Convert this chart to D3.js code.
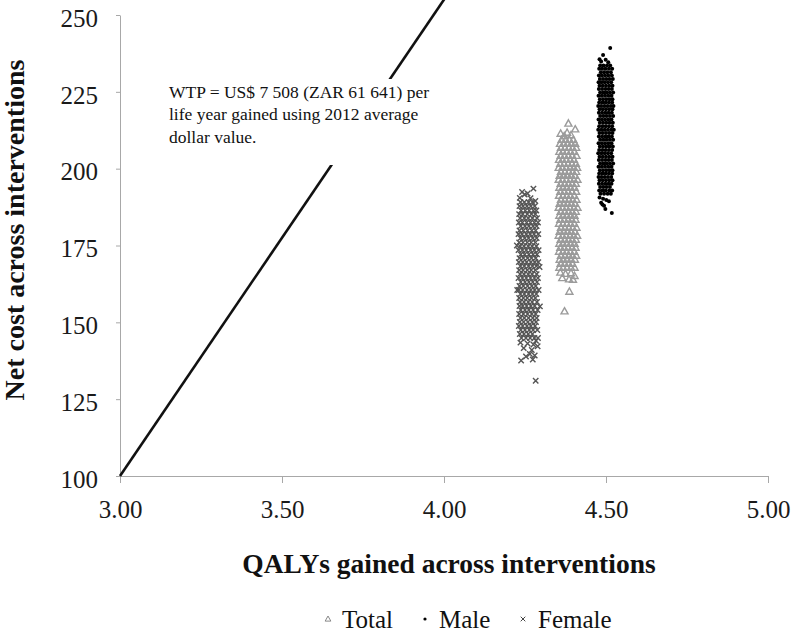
<!DOCTYPE html>
<html>
<head>
<meta charset="utf-8">
<script src="https://cdn.jsdelivr.net/npm/d3@7/dist/d3.min.js"></script>
<style>
  html, body { margin: 0; padding: 0; background: #fff; }
  svg { display: block; }
  text { font-family: "Liberation Serif", "Times New Roman", serif; }
</style>
</head>
<body>
<svg id="chart" width="800" height="633"></svg>
<script>
// ---------------- DATA ----------------
const xTicks = [3.00, 3.50, 4.00, 4.50, 5.00];
const yTicks = [100, 125, 150, 175, 200, 225, 250];
const seriesNames = ["Total", "Male", "Female"];
const xTitle = "QALYs gained across interventions";
const yTitle = "Net cost across interventions";
const annotationLines = [
  "WTP = US$ 7 508 (ZAR 61 641) per",
  "life year gained using 2012 average",
  "dollar value."
];
// WTP threshold line (QALYs, net cost)
const wtpX = [3.00, 4.009];
const wtpY = [100, 256.4];

// Female (×) : rows of [net cost, [QALYs...]] plus scattered points
const femaleRows = [
  [189.1,[4.236,4.248,4.261,4.273]],
  [187.8,[4.233,4.244,4.256,4.268,4.280]],
  [186.4,[4.238,4.251,4.263,4.276,4.285]],
  [185.2,[4.232,4.243,4.257,4.270,4.282]],
  [183.9,[4.235,4.248,4.260,4.273,4.287]],
  [182.5,[4.231,4.242,4.255,4.267,4.279,4.290]],
  [181.3,[4.237,4.250,4.262,4.275,4.286]],
  [179.9,[4.233,4.245,4.258,4.271,4.283]],
  [178.7,[4.230,4.241,4.254,4.266,4.278,4.291]],
  [177.4,[4.236,4.249,4.261,4.274,4.286]],
  [176.0,[4.232,4.244,4.257,4.269,4.282]],
  [174.8,[4.235,4.247,4.260,4.272,4.285]],
  [173.5,[4.230,4.242,4.254,4.267,4.279,4.292]],
  [172.1,[4.237,4.249,4.262,4.275,4.287]],
  [170.9,[4.233,4.245,4.258,4.270,4.283]],
  [169.6,[4.231,4.243,4.255,4.268,4.280,4.291]],
  [168.3,[4.236,4.248,4.261,4.273,4.285]],
  [167.0,[4.232,4.244,4.257,4.269,4.282]],
  [165.7,[4.235,4.247,4.260,4.272,4.286]],
  [164.4,[4.230,4.242,4.254,4.267,4.279,4.290]],
  [163.1,[4.237,4.250,4.262,4.274,4.287]],
  [161.8,[4.233,4.245,4.258,4.271,4.283]],
  [160.5,[4.231,4.243,4.256,4.268,4.280,4.292]],
  [159.2,[4.236,4.248,4.261,4.273,4.285]],
  [157.9,[4.232,4.245,4.257,4.270,4.282]],
  [156.6,[4.235,4.247,4.260,4.272,4.287]],
  [155.3,[4.233,4.243,4.255,4.268,4.280]],
  [154.0,[4.237,4.250,4.262,4.275,4.289]],
  [152.7,[4.232,4.245,4.258,4.271,4.283]],
  [151.4,[4.236,4.248,4.261,4.274,4.286]],
  [150.1,[4.234,4.246,4.259,4.272,4.284]],
  [148.8,[4.231,4.243,4.256,4.268,4.281]],
  [147.5,[4.237,4.250,4.263,4.275,4.288]],
  [146.2,[4.234,4.247,4.260,4.273]],
  [144.9,[4.239,4.253,4.266,4.279,4.290]]
];
const femaleScatter = [
  [4.241,192.4],[4.249,191.6],[4.258,191.9],[4.276,193.5],[4.234,190.5],[4.267,190.4],[4.282,189.5],
  [4.225,175.0],[4.295,168.0],[4.226,160.5],[4.296,155.2],
  [4.236,143.4],[4.258,143.1],[4.276,142.8],[4.284,144.0],[4.246,141.6],[4.271,141.0],[4.289,142.2],
  [4.265,139.7],[4.253,138.9],[4.238,137.6],[4.280,139.2],[4.274,137.9],[4.283,131.0]
];

// Total (triangle)
const totalRows = [
  [209.4,[4.363,4.375,4.387,4.399]],
  [208.1,[4.358,4.370,4.382,4.394,4.405]],
  [206.8,[4.361,4.373,4.385,4.397,4.408]],
  [205.5,[4.356,4.367,4.379,4.391,4.402]],
  [204.2,[4.360,4.372,4.384,4.396,4.409]],
  [202.9,[4.355,4.366,4.378,4.390,4.401]],
  [201.6,[4.359,4.371,4.383,4.395,4.407]],
  [200.3,[4.354,4.365,4.377,4.389,4.400,4.411]],
  [199.0,[4.361,4.373,4.385,4.397,4.408]],
  [197.7,[4.357,4.368,4.380,4.392,4.404]],
  [196.4,[4.354,4.366,4.378,4.390,4.401,4.412]],
  [195.1,[4.360,4.372,4.384,4.396,4.407]],
  [193.8,[4.356,4.368,4.380,4.391,4.403]],
  [192.5,[4.359,4.371,4.383,4.395,4.408]],
  [191.2,[4.355,4.367,4.379,4.390,4.402]],
  [189.9,[4.361,4.373,4.385,4.397,4.409]],
  [188.6,[4.357,4.369,4.381,4.393,4.404]],
  [187.3,[4.354,4.366,4.378,4.389,4.401,4.412]],
  [186.0,[4.360,4.372,4.384,4.396,4.407]],
  [184.7,[4.356,4.368,4.380,4.392,4.403]],
  [183.4,[4.359,4.371,4.383,4.394,4.406]],
  [182.1,[4.355,4.367,4.379,4.391,4.402]],
  [180.8,[4.361,4.373,4.385,4.397,4.409]],
  [179.5,[4.357,4.369,4.381,4.392,4.404]],
  [178.2,[4.354,4.366,4.377,4.389,4.400,4.411]],
  [176.9,[4.360,4.372,4.384,4.396,4.407]],
  [175.6,[4.356,4.368,4.380,4.391,4.403]],
  [174.3,[4.359,4.371,4.383,4.395,4.406]],
  [173.0,[4.355,4.367,4.378,4.390,4.402]],
  [171.7,[4.361,4.373,4.385,4.396,4.408]],
  [170.4,[4.357,4.369,4.381,4.393,4.404]],
  [169.1,[4.360,4.372,4.384,4.396]],
  [167.8,[4.356,4.368,4.380,4.392,4.403]]
];
const totalScatter = [
  [4.384,214.7],[4.360,211.4],[4.405,212.8],[4.371,210.6],[4.392,210.9],[4.380,211.7],
  [4.359,166.2],[4.375,165.8],[4.392,166.0],[4.403,165.1],[4.365,164.4],[4.386,164.0],[4.398,163.9],
  [4.387,160.0],[4.372,153.6]
];

// Male (dot)
const maleRows = [
  [233.6,[4.482,4.492,4.503,4.513]],
  [232.5,[4.479,4.488,4.498,4.509,4.519]],
  [231.4,[4.484,4.494,4.504,4.515]],
  [230.3,[4.478,4.487,4.497,4.507,4.518]],
  [229.2,[4.481,4.491,4.501,4.511,4.521]],
  [228.1,[4.477,4.486,4.496,4.506,4.516]],
  [227.0,[4.480,4.490,4.500,4.510,4.520]],
  [225.9,[4.478,4.488,4.498,4.508,4.518]],
  [224.8,[4.482,4.492,4.502,4.512,4.522]],
  [223.7,[4.477,4.487,4.497,4.507,4.517]],
  [222.6,[4.481,4.491,4.501,4.511,4.520]],
  [221.5,[4.479,4.489,4.499,4.509,4.519]],
  [220.4,[4.476,4.485,4.495,4.505,4.515,4.523]],
  [219.3,[4.480,4.490,4.500,4.510,4.520]],
  [218.2,[4.478,4.488,4.498,4.508,4.518]],
  [217.1,[4.482,4.492,4.502,4.512,4.522]],
  [216.0,[4.477,4.487,4.497,4.507,4.517]],
  [214.9,[4.481,4.491,4.501,4.511,4.521]],
  [213.8,[4.479,4.489,4.499,4.509,4.519]],
  [212.7,[4.476,4.486,4.496,4.506,4.516,4.524]],
  [211.6,[4.480,4.490,4.500,4.510,4.520]],
  [210.5,[4.478,4.488,4.498,4.508,4.518]],
  [209.4,[4.482,4.492,4.502,4.512,4.522]],
  [208.3,[4.477,4.487,4.497,4.507,4.517]],
  [207.2,[4.481,4.491,4.501,4.511,4.521]],
  [206.1,[4.479,4.489,4.499,4.509,4.519]],
  [205.0,[4.476,4.486,4.496,4.506,4.516]],
  [203.9,[4.480,4.490,4.500,4.510,4.520]],
  [202.8,[4.478,4.488,4.498,4.508,4.518]],
  [201.7,[4.482,4.492,4.502,4.512,4.522]],
  [200.6,[4.477,4.487,4.497,4.507,4.517]],
  [199.5,[4.481,4.491,4.501,4.511,4.520]],
  [198.4,[4.479,4.489,4.499,4.509,4.519]],
  [197.3,[4.477,4.486,4.496,4.506,4.516]],
  [196.2,[4.480,4.490,4.500,4.510,4.520]],
  [195.1,[4.478,4.488,4.498,4.508,4.517]],
  [194.0,[4.482,4.492,4.502,4.512]],
  [192.9,[4.479,4.489,4.499,4.510,4.519]],
  [191.8,[4.483,4.494,4.505,4.515]]
];
const maleScatter = [
  [4.513,239.3],[4.491,237.0],[4.485,234.9],[4.499,235.4],[4.507,234.6],[4.480,235.6],
  [4.480,190.6],[4.491,190.2],[4.501,189.8],[4.485,188.9],[4.509,189.4],[4.494,187.9],
  [4.498,186.9],[4.518,185.6],[4.489,188.3]
];

// ---------------- CHART ----------------
const flatten = (rows, extra) =>
  rows.flatMap(([yv, xs]) => xs.map(xv => [xv, yv])).concat(extra);
const femalePts = flatten(femaleRows, femaleScatter);
const totalPts = flatten(totalRows, totalScatter);
const malePts = flatten(maleRows, maleScatter);

const svg = d3.select("#chart");
svg.append("rect").attr("width", 800).attr("height", 633).attr("fill", "#fff");

const x = d3.scaleLinear().domain([3, 5]).range([120, 768]);
const y = d3.scaleLinear().domain([100, 250]).range([476, 15]);
const axisColor = "#a8a8a8";
const tickFont = 25;
const serif = "Liberation Serif, Times New Roman, serif";

// Y axis
const gy = svg.append("g").attr("transform", `translate(${x(3)},0)`)
  .call(d3.axisLeft(y).tickValues(yTicks).tickSize(4).tickSizeOuter(0)
    .tickPadding(18).tickFormat(d3.format("d")));
gy.select(".domain").attr("stroke", axisColor);
gy.selectAll(".tick line").attr("stroke", axisColor);
gy.selectAll(".tick text").attr("font-size", tickFont).attr("fill", "#1a1a1a")
  .attr("font-family", serif).attr("dy", "0.45em");

// X axis
const gx = svg.append("g").attr("transform", `translate(0,${y(100)})`)
  .call(d3.axisBottom(x).tickValues(xTicks).tickSize(7).tickSizeOuter(0)
    .tickPadding(17).tickFormat(d3.format(".2f")));
gx.select(".domain").attr("stroke", axisColor);
gx.selectAll(".tick line").attr("stroke", axisColor);
gx.selectAll(".tick text").attr("font-size", tickFont).attr("fill", "#1a1a1a")
  .attr("font-family", serif);

// Titles
svg.append("text").attr("x", 449).attr("y", 573).attr("text-anchor", "middle")
  .attr("font-size", 27.5).attr("font-weight", "bold").attr("fill", "#111").text(xTitle);
svg.append("text").attr("transform", `translate(24,230) rotate(-90)`).attr("text-anchor", "middle")
  .attr("font-size", 28).attr("font-weight", "bold").attr("fill", "#111").text(yTitle);

// WTP line
const line = d3.line().x(d => x(d[0])).y(d => y(d[1]));
svg.append("path").datum(d3.zip(wtpX, wtpY)).attr("d", line)
  .attr("fill", "none").attr("stroke", "#111").attr("stroke-width", 2.6);

// Annotation box (white background hides the line)
svg.append("rect").attr("x", 163).attr("y", 79).attr("width", 282).attr("height", 86).attr("fill", "#fff");
svg.append("g").selectAll("text").data(annotationLines).join("text")
  .attr("x", 169).attr("y", (d, i) => 98 + i * 22.3)
  .attr("font-size", 17.5).attr("fill", "#111").text(d => d);

// Marker shapes
const crossPath = s => `M${-s},${-s}L${s},${s}M${-s},${s}L${s},${-s}`;
const triPath = s => `M0,${-s}L${s * 0.95},${s * 0.7}L${-s * 0.95},${s * 0.7}Z`;

// Female crosses
svg.append("g").selectAll("path").data(femalePts).join("path")
  .attr("transform", d => `translate(${x(d[0])},${y(d[1])})`)
  .attr("d", crossPath(2.7)).attr("fill", "none").attr("stroke", "#555").attr("stroke-width", 1.4);

// Total triangles
svg.append("g").selectAll("path").data(totalPts).join("path")
  .attr("transform", d => `translate(${x(d[0])},${y(d[1])})`)
  .attr("d", triPath(3.7)).attr("fill", "none").attr("stroke", "#9b9b9b").attr("stroke-width", 1.4);

// Male dots
svg.append("g").selectAll("circle").data(malePts).join("circle")
  .attr("cx", d => x(d[0])).attr("cy", d => y(d[1])).attr("r", 2.0).attr("fill", "#000");

// Legend
const legendY = 619;
const legendItems = [
  { name: seriesNames[0], sx: 328, tx: 342 },
  { name: seriesNames[1], sx: 425, tx: 439 },
  { name: seriesNames[2], sx: 523, tx: 538 }
];
const lg = svg.append("g");
lg.append("path").attr("transform", `translate(${legendItems[0].sx},${legendY})`)
  .attr("d", triPath(3)).attr("fill", "none").attr("stroke", "#888").attr("stroke-width", 1);
lg.append("circle").attr("cx", legendItems[1].sx).attr("cy", legendY).attr("r", 1.6).attr("fill", "#000");
lg.append("path").attr("transform", `translate(${legendItems[2].sx},${legendY})`)
  .attr("d", crossPath(2.3)).attr("fill", "none").attr("stroke", "#444").attr("stroke-width", 1);
lg.selectAll("text").data(legendItems).join("text")
  .attr("x", d => d.tx).attr("y", legendY + 8.5)
  .attr("font-size", 25).attr("fill", "#111").text(d => d.name);
</script>
</body>
</html>
